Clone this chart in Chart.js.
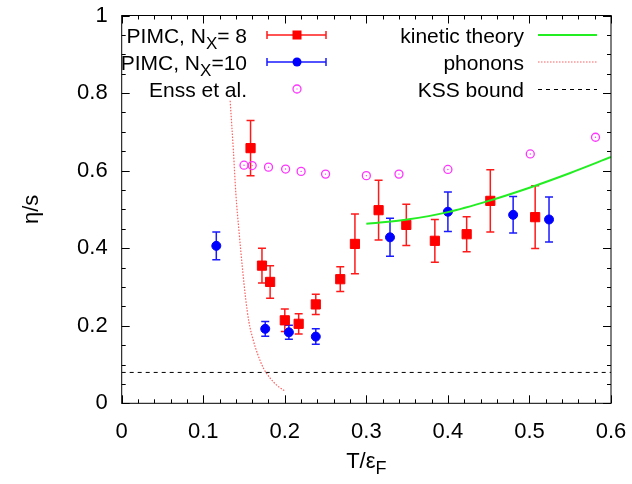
<!DOCTYPE html>
<html>
<head>
<meta charset="utf-8">
<script src="https://cdn.jsdelivr.net/npm/chart.js@4.4.1/dist/chart.umd.min.js"></script>
<style>
    html, body { margin: 0; padding: 0; background: #fff; }
</style>
</head>
<body>
<canvas id="chart" width="632" height="484"></canvas>
<script>
// PIMC, N_X = 8
let t_nx8   = [0.158, 0.172, 0.182, 0.200, 0.217, 0.238, 0.268, 0.286, 0.315, 0.349, 0.384, 0.423, 0.452, 0.507]
let eta_nx8 = [0.658, 0.355, 0.313, 0.214, 0.205, 0.255, 0.320, 0.411, 0.498, 0.460, 0.419, 0.436, 0.522, 0.480]
let err_nx8 = [0.071, 0.045, 0.042, 0.029, 0.026, 0.026, 0.032, 0.077, 0.077, 0.053, 0.055, 0.045, 0.080, 0.081]

// PIMC, N_X = 10
let t_nx10   = [0.116, 0.176, 0.205, 0.238, 0.329, 0.400, 0.480, 0.524]
let eta_nx10 = [0.406, 0.192, 0.183, 0.172, 0.428, 0.494, 0.486, 0.474]
let err_nx10 = [0.036, 0.019, 0.018, 0.020, 0.049, 0.051, 0.047, 0.058]

// Enss et al.
let t_enss   = [0.150, 0.160, 0.180, 0.201, 0.220, 0.250, 0.300, 0.340, 0.400, 0.501, 0.581]
let eta_enss = [0.614, 0.613, 0.609, 0.604, 0.598, 0.591, 0.587, 0.591, 0.603, 0.643, 0.686]

// kinetic theory
let t_kin   = [0.30, 0.35, 0.40, 0.45, 0.50, 0.55, 0.60]
let eta_kin = [0.463, 0.474, 0.493, 0.522, 0.556, 0.594, 0.635]

// phonons
let t_phon   = [0.133, 0.137, 0.140, 0.144, 0.148, 0.152, 0.156, 0.161, 0.167, 0.174, 0.182, 0.191, 0.200]
let eta_phon = [0.78, 0.65, 0.54, 0.44, 0.35, 0.27, 0.21, 0.165, 0.125, 0.09, 0.065, 0.045, 0.032]

// KSS bound 1/(4 pi)
let t_kss   = [0, 0.6]
let eta_kss = [0.0796, 0.0796]

// axis ticks
let x_major = [0, 0.1, 0.2, 0.3, 0.4, 0.5, 0.6]
let x_labels = ['0', '0.1', '0.2', '0.3', '0.4', '0.5', '0.6']
let y_major = [0, 0.2, 0.4, 0.6, 0.8, 1]
let y_labels = ['0', '0.2', '0.4', '0.6', '0.8', '1']


const FONT = "'Liberation Sans', Arial, sans-serif"

function pts(xs, ys) {
    return xs.map((x, i) => ({ x: x, y: ys[i] }))
}

function drawErrBars(chart, xs, ys, es, color) {
    const ctx = chart.ctx
    const sx = chart.scales.x, sy = chart.scales.y
    ctx.save()
    ctx.strokeStyle = color
    ctx.lineWidth = 1.5
    for (let i = 0; i < xs.length; i++) {
        let px = sx.getPixelForValue(xs[i])
        let top = sy.getPixelForValue(ys[i] + es[i])
        let bot = sy.getPixelForValue(ys[i] - es[i])
        ctx.beginPath()
        ctx.moveTo(px, top); ctx.lineTo(px, bot)
        ctx.moveTo(px - 4, top); ctx.lineTo(px + 4, top)
        ctx.moveTo(px - 4, bot); ctx.lineTo(px + 4, bot)
        ctx.stroke()
    }
    ctx.restore()
}

// text with subscripts
function drawRich(ctx, parts, x, y, align, size) {
    size = size || 21
    let total = 0
    parts.forEach(p => {
        ctx.font = (p.sub ? size - 4 : size) + 'px ' + FONT
        p.w = ctx.measureText(p.t).width
        total += p.w
    })
    let cx = align === 'right' ? x - total : (align === 'center' ? x - total / 2 : x)
    ctx.textAlign = 'left'
    ctx.textBaseline = 'alphabetic'
    parts.forEach(p => {
        ctx.font = (p.sub ? size - 4 : size) + 'px ' + FONT
        ctx.fillText(p.t, cx, y + (p.sub ? 6 : 0))
        cx += p.w
    })
}

const errorBars = {
    id: 'errorBars',
    beforeDatasetsDraw(chart) {
        drawErrBars(chart, t_nx8, eta_nx8, err_nx8, '#ff1a1a')
        drawErrBars(chart, t_nx10, eta_nx10, err_nx10, '#1a1aff')
    }
}

const frame = {
    id: 'frame',
    afterDraw(chart) {
        const ctx = chart.ctx
        const a = chart.chartArea
        const sx = chart.scales.x, sy = chart.scales.y
        ctx.save()
        ctx.strokeStyle = '#000'
        ctx.lineWidth = 1
        ctx.strokeRect(a.left, a.top, a.right - a.left, a.bottom - a.top)

        ctx.beginPath()
        // x ticks, every 0.02, major every 0.1
        for (let k = 0; k <= 30; k++) {
            let px = Math.round(sx.getPixelForValue(k * 0.02)) + 0.5
            let len = k % 5 === 0 ? 8 : 4
            ctx.moveTo(px, a.bottom); ctx.lineTo(px, a.bottom - len)
            ctx.moveTo(px, a.top); ctx.lineTo(px, a.top + len)
        }
        // y ticks, every 0.05, major every 0.2
        for (let k = 0; k <= 20; k++) {
            let py = Math.round(sy.getPixelForValue(k * 0.05)) + 0.5
            let len = k % 4 === 0 ? 8 : 4
            ctx.moveTo(a.left, py); ctx.lineTo(a.left + len, py)
            ctx.moveTo(a.right, py); ctx.lineTo(a.right - len, py)
        }
        ctx.stroke()

        // x axis title
        ctx.fillStyle = '#000'
        drawRich(ctx, [{ t: 'T/ε' }, { t: 'F', sub: true }], (a.left + a.right) / 2, 468, 'center', 22)

        // legend, left column
        let rows = [35, 62, 89]
        drawRich(ctx, [{ t: 'PIMC, N' }, { t: 'X', sub: true }, { t: '= 8' }], 247, rows[0] + 8, 'right')
        drawRich(ctx, [{ t: 'PIMC, N' }, { t: 'X', sub: true }, { t: '=10' }], 247, rows[1] + 8, 'right')
        drawRich(ctx, [{ t: 'Enss et al.' }], 247, rows[2] + 8, 'right')

        // samples
        const sample = (y, color) => {
            ctx.strokeStyle = color
            ctx.lineWidth = 1.5
            ctx.beginPath()
            ctx.moveTo(267, y); ctx.lineTo(326, y)
            ctx.moveTo(267, y - 4); ctx.lineTo(267, y + 4)
            ctx.moveTo(326, y - 4); ctx.lineTo(326, y + 4)
            ctx.stroke()
        }
        sample(rows[0], '#ff1a1a')
        ctx.fillStyle = '#ff0000'
        ctx.fillRect(297 - 4.5, rows[0] - 4.5, 9, 9)
        sample(rows[1], '#1a1aff')
        ctx.fillStyle = '#0000ff'
        ctx.beginPath(); ctx.arc(297, rows[1], 4.5, 0, 2 * Math.PI); ctx.fill()
        ctx.strokeStyle = '#ff33ff'
        ctx.lineWidth = 1.3
        ctx.beginPath(); ctx.arc(297, rows[2], 4, 0, 2 * Math.PI); ctx.stroke()
        ctx.fillStyle = '#ff33ff'
        ctx.fillRect(296.5, rows[2] - 0.5, 1, 1)

        // legend, right column
        ctx.fillStyle = '#000'
        drawRich(ctx, [{ t: 'kinetic theory' }], 524, rows[0] + 8, 'right')
        drawRich(ctx, [{ t: 'phonons' }], 524, rows[1] + 8, 'right')
        drawRich(ctx, [{ t: 'KSS bound' }], 524, rows[2] + 8, 'right')

        ctx.strokeStyle = '#22ee22'
        ctx.lineWidth = 2
        ctx.beginPath(); ctx.moveTo(538, rows[0]); ctx.lineTo(597, rows[0]); ctx.stroke()
        ctx.strokeStyle = '#ff6060'
        ctx.lineWidth = 1.2
        ctx.setLineDash([1.5, 1.5])
        ctx.beginPath(); ctx.moveTo(538, rows[1]); ctx.lineTo(597, rows[1]); ctx.stroke()
        ctx.strokeStyle = '#000'
        ctx.lineWidth = 1
        ctx.setLineDash([4, 4])
        ctx.beginPath(); ctx.moveTo(538, rows[2] + 0.5); ctx.lineTo(597, rows[2] + 0.5); ctx.stroke()
        ctx.restore()
    }
}

const data = {
    datasets: [
        {
            label: 'kinetic theory',
            data: pts(t_kin, eta_kin),
            showLine: true,
            borderColor: '#22ee22',
            borderWidth: 2,
            pointRadius: 0,
            cubicInterpolationMode: 'monotone'
        },
        {
            label: 'phonons',
            data: pts(t_phon, eta_phon),
            showLine: true,
            borderColor: '#ff6060',
            borderWidth: 1.2,
            borderDash: [1.5, 1.5],
            pointRadius: 0,
            cubicInterpolationMode: 'monotone'
        },
        {
            label: 'KSS bound',
            data: pts(t_kss, eta_kss),
            showLine: true,
            borderColor: '#000',
            borderWidth: 1,
            borderDash: [4, 4],
            pointRadius: 0
        },
        {
            label: 'Enss dot',
            data: pts(t_enss, eta_enss),
            pointStyle: 'circle',
            pointRadius: 0.7,
            backgroundColor: '#ff33ff',
            borderWidth: 0
        },
        {
            label: 'Enss et al.',
            data: pts(t_enss, eta_enss),
            pointStyle: 'circle',
            pointRadius: 4,
            backgroundColor: 'rgba(0,0,0,0)',
            borderColor: '#ff33ff',
            borderWidth: 1.3
        },
        {
            label: 'PIMC, Nx=10',
            data: pts(t_nx10, eta_nx10),
            pointStyle: 'circle',
            pointRadius: 4.5,
            backgroundColor: '#0000ff',
            borderColor: '#0000ff',
            borderWidth: 1
        },
        {
            label: 'PIMC, Nx=8',
            data: pts(t_nx8, eta_nx8),
            pointStyle: 'rect',
            pointRadius: 6.5,
            backgroundColor: '#ff0000',
            borderColor: '#ff0000',
            borderWidth: 1
        }
    ]
}

const options = {
    responsive: false,
    animation: false,
    events: [],
    layout: {
        padding: { top: 15.5, right: 21, left: 0, bottom: 0 }
    },
    scales: {
        x: {
            type: 'linear',
            min: 0,
            max: 0.6,
            grid: { display: false, drawTicks: false },
            border: { display: false },
            afterBuildTicks: (scale) => { scale.ticks = x_major.map(v => ({ value: v })) },
            afterFit: (scale) => {
                scale.height = 80.7
                scale.paddingLeft = 0
                scale.paddingRight = 0
            },
            ticks: {
                autoSkip: false,
                maxRotation: 0,
                padding: 15,
                color: '#000',
                font: { family: FONT, size: 22 },
                callback: (v, i) => x_labels[i]
            }
        },
        y: {
            type: 'linear',
            min: 0,
            max: 1,
            grid: { display: false, drawTicks: false },
            border: { display: false },
            afterBuildTicks: (scale) => { scale.ticks = y_major.map(v => ({ value: v })) },
            afterFit: (scale) => {
                scale.width = 121.7
                scale.paddingTop = 0
                scale.paddingBottom = 0
            },
            ticks: {
                autoSkip: false,
                padding: 14,
                color: '#000',
                font: { family: FONT, size: 22 },
                callback: (v, i) => y_labels[i]
            },
            title: {
                display: true,
                text: 'η/s',
                color: '#000',
                font: { family: FONT, size: 22 },
                padding: { top: 19 }
            }
        }
    },
    plugins: {
        legend: { display: false },
        tooltip: { enabled: false }
    }
}

const ctx = document.getElementById('chart').getContext('2d')
const scatterChart = new Chart(ctx, {
    type: 'scatter',
    data: data,
    options: options,
    plugins: [errorBars, frame]
})
</script>
</body>
</html>
